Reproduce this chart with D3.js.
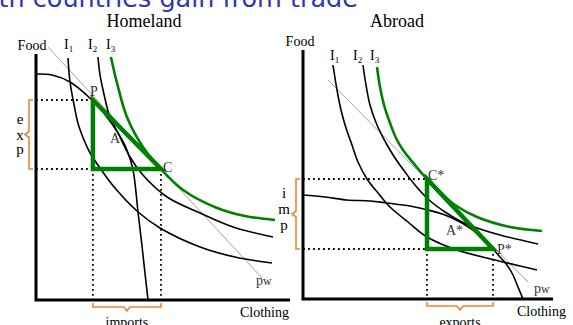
<!DOCTYPE html>
<html lang="en">
<head>
<meta charset="utf-8">
<script src="https://d3js.org/d3.v7.min.js"></script>
<style>
  body { margin: 0; background: #fff; }
  text { font-family: "Liberation Serif", "Times New Roman", serif; }
</style>
</head>
<body>
<script>
// ---- data (axis units 0..100) ----
const titleText = "Both countries gain from trade";
const panelTitles = ["Homeland", "Abroad"];
const curveLabels = ["1", "2", "3"];

// Homeland
const homePPF = [[0,90.4],[6.3,90.0],[13.4,87.2],[22.0,80.0],[27.6,73.6],[32.3,66.8],[35.8,60.0],[38.2,52.0],[40.2,34.8],[41.7,22.0],[42.9,10.8],[44.1,0]];
const homeI1 = [[12.6,96.8],[13.4,87.2],[15.0,78.0],[16.5,70.8],[18.9,64.0],[21.3,58.8],[25.2,52.8],[31.1,44.8],[40.2,35.2],[48.8,28.8],[64.6,21.2],[78.3,17.2],[92.9,14.8]];
const homeI2 = [[24.4,97.2],[25.2,90.0],[26.4,84.0],[29.1,73.2],[32.3,66.8],[37.0,57.2],[42.1,50.0],[51.6,41.2],[64.6,34.8],[77.6,29.2],[93.3,25.2]];
const homeI3 = [[29.5,97.2],[31.9,86.8],[35.8,73.2],[42.1,61.2],[48.8,52.8],[57.9,44.0],[71.3,36.8],[82.3,33.6],[94.1,32.0]];
const homePrice = [[4.7,101.2],[89.0,8.8]];
const homeP = [22.4,80.0], homeC = [49.2,52.4], homeA = [32.3,66.8];

// Abroad
const abrPPF = [[0,41.6],[8.8,40.8],[17.6,39.6],[26.8,39.2],[33.6,38.4],[42.8,37.2],[50.0,35.6],[56.8,33.6],[63.6,30.4],[70.0,26.0],[76.0,20.0],[78.8,16.8],[81.6,13.6],[84.0,9.6],[86.0,4.8],[88.0,0]];
const abrI1 = [[12.0,93.6],[13.6,83.6],[15.2,75.6],[17.2,68.4],[19.6,61.6],[22.0,54.8],[25.6,48.0],[30.0,42.4],[34.8,36.8],[42.0,30.8],[49.6,24.8],[61.6,19.6],[76.8,15.6],[93.6,11.6]];
const abrI2 = [[24.0,93.6],[25.2,85.6],[26.8,77.6],[29.6,69.6],[33.2,62.4],[36.8,56.4],[40.8,50.8],[44.8,45.6],[50.0,40.0],[56.8,34.8],[63.6,30.8],[70.8,28.0],[78.8,25.6],[94.0,22.0]];
const abrI3 = [[29.6,92.8],[30.8,84.8],[32.4,77.6],[34.8,70.4],[37.2,64.4],[40.0,59.6],[44.8,53.6],[49.6,48.0],[54.8,42.8],[60.8,37.6],[69.6,32.8],[82.8,28.8],[95.6,27.2]];
const abrPrice = [[10.0,87.6],[90.0,6.8]];
const abrP = [76.0,20.0], abrC = [49.6,48.0], abrA = [63.6,30.4];

const svg = d3.select("body").append("svg")
  .attr("width", 573).attr("height", 325);

// slide title, mostly scrolled off the top
svg.append("text").text(titleText)
  .attr("x", 358).attr("y", 7)
  .attr("text-anchor", "end")
  .style("font-family", "'DejaVu Sans', sans-serif")
  .style("font-size", "25.5px")
  .attr("fill", "#3333b3");

const green = "#008000", orange = "#f5822f";

function drawPanel(o) {
  const x = d3.scaleLinear().domain([0,100]).range(o.xr);
  const y = d3.scaleLinear().domain([0,100]).range(o.yr);
  const g = svg.append("g");
  const smooth = d3.line().x(d => x(d[0])).y(d => y(d[1])).curve(d3.curveCatmullRom);
  const straight = d3.line().x(d => x(d[0])).y(d => y(d[1]));

  g.append("text").text(o.title)
    .attr("x", o.titleX).attr("y", 27).attr("text-anchor", "middle")
    .style("font-size", "18px");

  // price line
  g.append("path").attr("d", straight(o.price))
    .attr("fill", "none").attr("stroke", "#8c8c8c").attr("stroke-width", 0.8);

  // dotted guides
  const corner = [o.leftPt[0], o.lowPt[1]];
  const dots = [
    [[0, o.topPt[1]], [o.leftPt[0], o.topPt[1]]],
    [[0, o.lowPt[1]], corner],
    [corner, [corner[0], 0]],
    [[o.rightPt[0], o.lowPt[1]], [o.rightPt[0], 0]]
  ];
  dots.forEach(d => g.append("path").attr("d", straight(d))
    .attr("stroke", "#000").attr("stroke-width", 1.8)
    .attr("stroke-dasharray", "1.8,3.2").attr("fill", "none"));

  // curves
  [o.ppf, o.i1, o.i2].forEach(c => g.append("path").attr("d", smooth(c))
    .attr("fill", "none").attr("stroke", "#000").attr("stroke-width", 1.6));
  g.append("path").attr("d", smooth(o.i3))
    .attr("fill", "none").attr("stroke", green).attr("stroke-width", 2.6);

  // trade triangle
  g.append("path").attr("d", straight([o.topPt, corner, o.rightPt, o.topPt]) + "Z")
    .attr("fill", "none").attr("stroke", green).attr("stroke-width", 4.5)
    .attr("stroke-linejoin", "miter");

  // axes
  g.append("path").attr("d", straight([[0, o.yTop], [0, 0], [100, 0]]))
    .attr("fill", "none").attr("stroke", "#000").attr("stroke-width", 3);

  g.append("text").text("Food").attr("x", x(0) + o.foodDx).attr("y", o.foodY)
    .attr("text-anchor", "middle").style("font-size", "14px");
  g.append("text").text("Clothing").attr("x", x(100) - 50 + o.clothDx).attr("y", o.clothY)
    .style("font-size", "14px");

  curveLabels.forEach((s, i) => {
    const t = g.append("text").attr("x", o.iX[i]).attr("y", o.iY).style("font-size", "14px");
    t.append("tspan").text("I");
    t.append("tspan").text(s).attr("dy", 3).style("font-size", "9px");
  });

  // point labels
  o.pts.forEach(p => g.append("text").text(p.t)
    .attr("x", x(p.at[0]) + p.dx).attr("y", y(p.at[1]) + p.dy)
    .attr("fill", "#333").style("font-size", "14px"));

  const pw = g.append("text").attr("x", x(o.price[1][0]) + o.pwDx).attr("y", y(o.price[1][1]) + o.pwDy)
    .attr("fill", "#333").style("font-size", "14px");
  pw.append("tspan").text("p");
  pw.append("tspan").text("w").style("font-size", "12px");

  // vertical brace
  const bx = x(0) - 7, yT = y(o.braceV[0]), yB = y(o.braceV[1]), ym = (yT + yB) / 2;
  g.append("path")
    .attr("d", `M${bx+4},${yT}H${bx}V${ym-3}L${bx-4},${ym}L${bx},${ym+3}V${yB}H${bx+4}`)
    .attr("fill", "none").attr("stroke", orange).attr("stroke-width", 1.6);
  o.braceLetters.forEach((s, i) => g.append("text").text(s)
    .attr("x", bx + o.letterDx).attr("y", o.letterY[i])
    .attr("text-anchor", "middle").style("font-size", "15px"));

  // horizontal brace
  const by = y(0) + 7, xL = x(o.braceH[0]), xR = x(o.braceH[1]), xm = (xL + xR) / 2;
  g.append("path")
    .attr("d", `M${xL},${by-4}V${by}H${xm-3}L${xm},${by+4}L${xm+3},${by}H${xR}V${by-4}`)
    .attr("fill", "none").attr("stroke", orange).attr("stroke-width", 1.6);
  g.append("text").text(o.braceWord).attr("x", xm).attr("y", 327)
    .attr("text-anchor", "middle").style("font-size", "14px");
}

drawPanel({
  title: panelTitles[0], titleX: 144,
  xr: [36, 290], yr: [300, 50], yTop: 98.4,
  ppf: homePPF, i1: homeI1, i2: homeI2, i3: homeI3, price: homePrice,
  topPt: homeP, leftPt: homeP, lowPt: homeC, rightPt: homeC,
  foodDx: -4, foodY: 50, clothDx: 0, clothY: 317,
  iX: [64, 88, 106], iY: 49,
  pts: [{t: "P", at: homeP, dx: -3, dy: -4}, {t: "A", at: homeA, dx: -8, dy: 10}, {t: "C", at: homeC, dx: 2, dy: 3}],
  pwDx: -6, pwDy: 7,
  braceV: [homeP[1], homeC[1]], braceLetters: ["e", "x", "p"], letterDx: -9, letterY: [124, 140, 154],
  braceH: [homeP[0], homeC[0]], braceWord: "imports"
});

drawPanel({
  title: panelTitles[1], titleX: 397,
  xr: [303, 553], yr: [299, 49], yTop: 99.6,
  ppf: abrPPF, i1: abrI1, i2: abrI2, i3: abrI3, price: abrPrice,
  topPt: abrC, leftPt: abrC, lowPt: abrP, rightPt: abrP,
  foodDx: -3, foodY: 46, clothDx: 14, clothY: 316,
  iX: [330, 353, 370], iY: 60,
  pts: [{t: "C*", at: abrC, dx: 1, dy: 1}, {t: "A*", at: abrA, dx: -16, dy: 12}, {t: "P*", at: abrP, dx: 4, dy: 5}],
  pwDx: 6, pwDy: 11,
  braceV: [abrC[1], abrP[1]], braceLetters: ["i", "m", "p"], letterDx: -12, letterY: [198, 214, 230],
  braceH: [abrC[0], abrP[0]], braceWord: "exports"
});
</script>
</body>
</html>
